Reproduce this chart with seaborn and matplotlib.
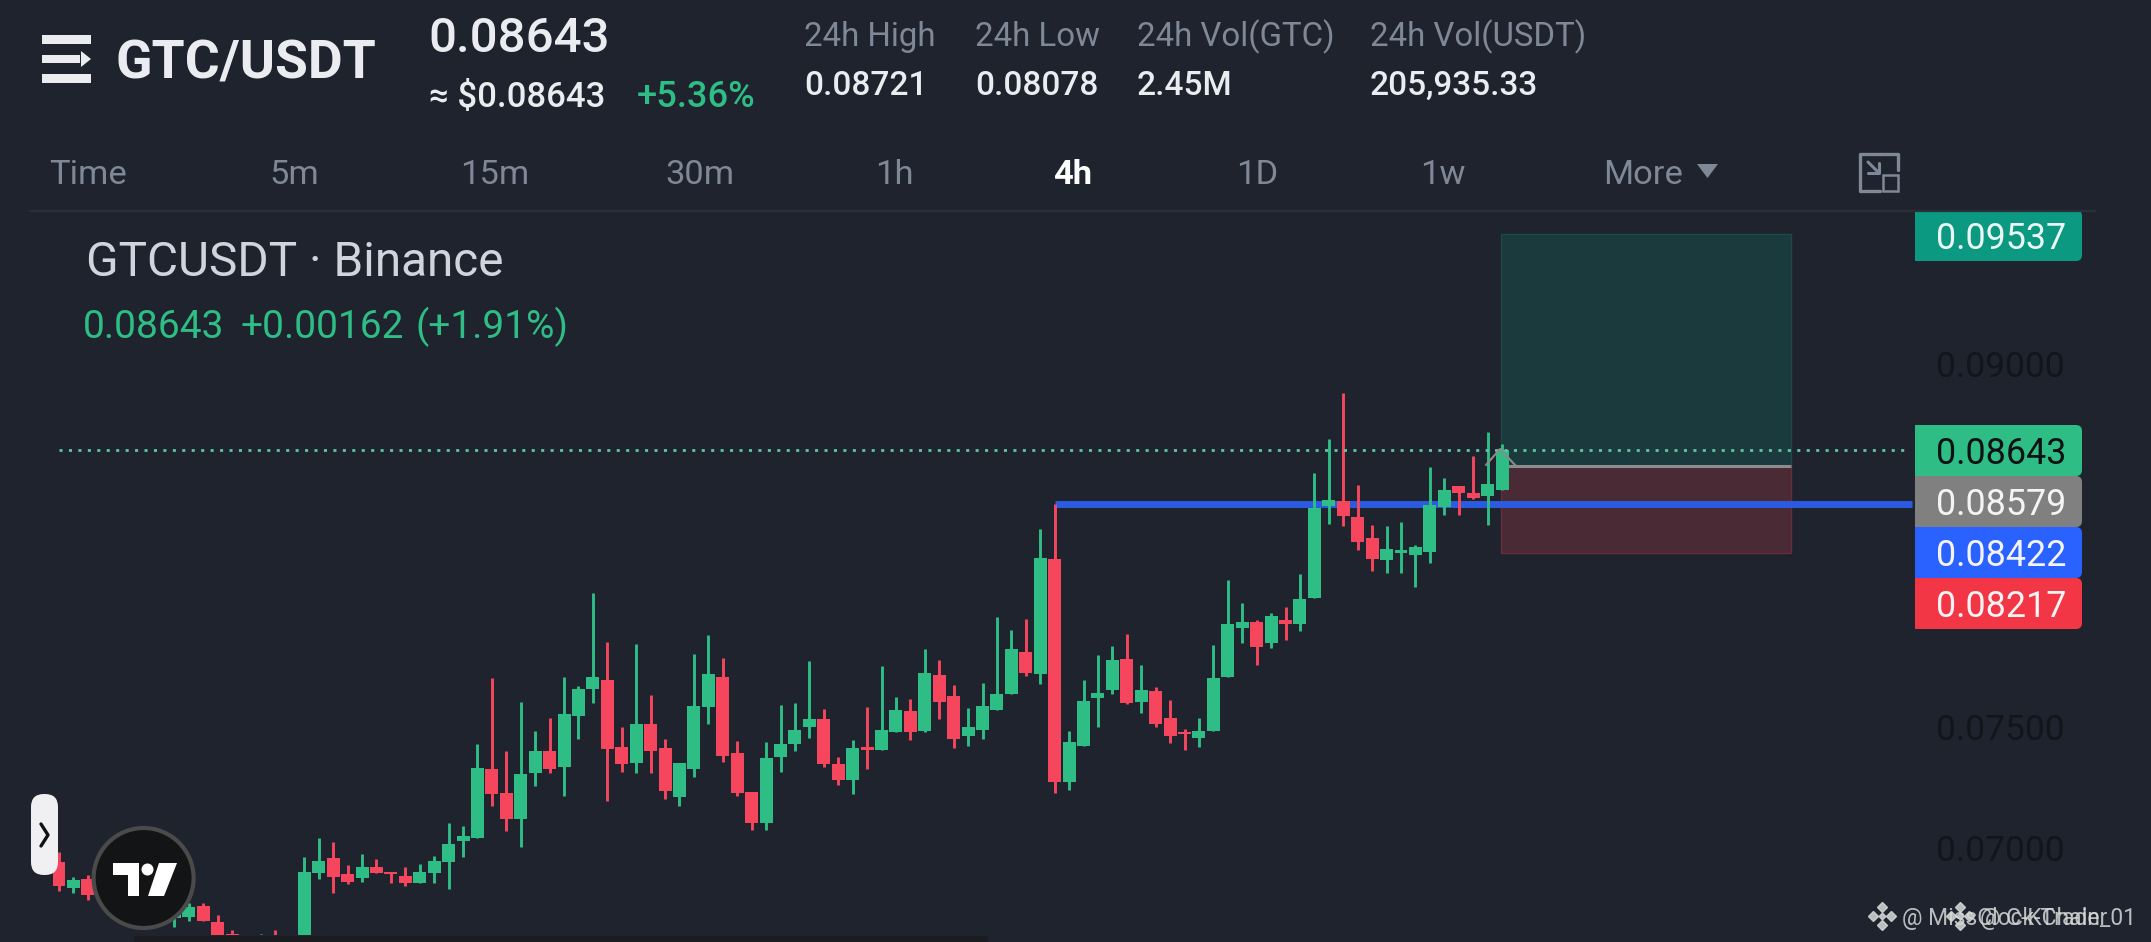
import numpy as np
import pandas as pd
import seaborn as sns
from matplotlib import pyplot as plt
from matplotlib.patches import FancyBboxPatch, Polygon, Rectangle, Circle

# candle slots, the ones behind the logo are left out
bar_index = [0, 1, 2, 8, 9, 10, 11, 12, 14, 15, 17, 18, 19, 20, 21, 22, 23, 24, 25, 26, 27, 28, 29, 30, 31, 32, 33, 34,
             35, 36, 37, 38, 39, 40, 41, 42, 43, 44, 45, 46, 47, 48, 49, 50, 51, 52, 53, 54, 55, 56, 57, 58, 59, 60,
             61, 62, 63, 64, 65, 66, 67, 68, 69, 70, 71, 72, 73, 74, 75, 76, 77, 78, 79, 80, 81, 82, 83, 84, 85, 86,
             87, 88, 89, 90, 91, 92, 93, 94, 95, 96, 97, 98, 99, 100]
open_px = [.06942, .06834, .06872, .06711, .06715, .06760, .06694, .06645, .06537, .06620, .06599, .06896, .06958, .06892,
           .06876, .06921, .06900, .06884, .06855, .06896, .06942, .07029, .07041, .07326, .07227, .07119, .07310, .07401,
           .07335, .07546, .07657, .07695, .07418, .07352, .07513, .07414, .07211, .07326, .07583, .07707, .07392, .07231,
           .07103, .07376, .07429, .07500, .07533, .07347, .07281, .07417, .07405, .07479, .07566, .07483,
           .07715, .07628, .07463, .07487, .07570, .07637, .07810, .07719, .08194, .07273, .07421, .07620, .07653, .07781,
           .07604, .07649, .07538, .07479, .07454, .07483, .07707, .07909, .07934, .07847, .07942, .07926,
           .08033, .08413, .08434, .08368, .08281, .08190, .08219, .08211, .08223, .08409, .08496, .08467, .08454, .08479]
high_px = [.06983, .06880, .06888, .06764, .06773, .06773, .06723, .06661, .06645, .06661, .06962, .07041, .07024, .06929,
           .06975, .06954, .06900, .06921, .06933, .06967, .07103, .07091, .07430, .07703, .07401, .07604, .07484, .07538,
           .07707, .07670, .08054, .07852, .07500, .07843, .07633, .07451, .07352, .07802, .07881, .07785, .07442, .07231,
           .07438, .07591, .07600, .07772, .07575, .07376, .07446, .07583, .07752, .07624, .07616, .07822,
           .07777, .07674, .07579, .07682, .07955, .07901, .07946, .08318, .08422, .07483, .07695, .07798, .07835, .07884,
           .07756, .07665, .07612, .07492, .07537, .07839, .08107, .08012, .07942, .07971, .07996, .08132,
           .08550, .08690, .08880, .08500, .08335, .08331, .08347, .08252, .08574, .08529, .08496, .08620, .08721, .08669]
low_px = [.06822, .06814, .06785, .06673, .06698, .06698, .06599, .06558, .06516, .06537, .06578, .06872, .06814, .06851,
          .06859, .06896, .06855, .06843, .06855, .06855, .06830, .06962, .07041, .07173, .07070, .07004, .07256, .07310,
          .07215, .07451, .07600, .07194, .07314, .07310, .07310, .07203, .07173, .07293, .07513, .07355, .07215, .07074,
          .07074, .07314, .07400, .07454, .07334, .07260, .07223, .07326, .07405, .07479, .07446, .07479,
          .07533, .07413, .07421, .07450, .07570, .07637, .07711, .07678, .07227, .07239, .07421, .07500, .07637, .07595,
          .07558, .07500, .07434, .07405, .07417, .07483, .07707, .07847, .07756, .07826, .07860, .07897,
          .08033, .08339, .08331, .08231, .08145, .08136, .08136, .08079, .08178, .08376, .08376, .08442, .08335, .08479]
close_px = [.06843, .06867, .06805, .06744, .06756, .06698, .06620, .06578, .06599, .06558, .06900, .06946, .06880, .06859,
            .06921, .06896, .06892, .06855, .06900, .06946, .07016, .07049, .07330, .07223, .07119, .07306, .07401, .07326,
            .07554, .07657, .07707, .07410, .07348, .07513, .07401, .07236, .07352, .07587, .07719, .07380, .07227, .07103,
            .07372, .07429, .07487, .07533, .07347, .07281, .07413, .07405, .07488, .07570, .07479, .07723,
            .07604, .07450, .07500, .07587, .07637, .07822, .07723, .08198, .07273, .07438, .07608, .07641, .07777, .07600,
            .07653, .07512, .07463, .07471, .07483, .07703, .07926, .07934, .07831, .07959, .07926, .08029,
            .08405, .08438, .08372, .08264, .08194, .08236, .08231, .08244, .08417, .08479, .08467, .08446, .08504, .08643]

last_price = 0.08643
entry_price = 0.08579
target_price = 0.09537
stop_price = 0.08217
level_price = 0.08422
level_start = 69
tool_start, tool_end = 99.9, 120

price_ticks = [0.07, 0.075, 0.09]
tag_labels = ["0.09537", "0.08643", "0.08579", "0.08422", "0.08217"]
tag_colors = ["#0B9981", "#2EBD85", "#808080", "#2962FF", "#F23645"]
tag_text_colors = ["#EAF6F4", "#0E1114", "#F4F4F4", "#F4F4F4", "#F4F4F4"]

tab_labels = ["Time", "5m", "15m", "30m", "1h", "4h", "1D", "1w", "More"]
stat_titles = ["24h High", "24h Low", "24h Vol(GTC)", "24h Vol(USDT)"]
stat_values = ["0.08721", "0.08078", "2.45M", "205,935.33"]

BG = "#1E232D"
GREEN = "#2EBD85"
RED = "#F6465D"
GREY = "#7F8896"
WHITE = "#EAECEF"

sns.set_theme(style="dark", rc={"axes.facecolor": BG, "figure.facecolor": BG, "axes.grid": False})
plt.rcParams["font.family"] = ["Roboto", "DejaVu Sans"]

df = pd.DataFrame({"idx": bar_index, "open": open_px, "high": high_px, "low": low_px, "close": close_px})
df["body"] = (df["close"] - df["open"]).abs()
df["bottom"] = df[["open", "close"]].min(axis=1)
df["up"] = df["close"] >= df["open"]

fig = plt.figure(figsize=(21.51, 9.42), dpi=100)
ax = fig.add_axes([0, 7 / 942, 1915 / 2151, 725 / 942])

# position tool behind the candles
ax.add_patch(Rectangle((tool_start, entry_price), tool_end - tool_start, target_price - entry_price,
                       facecolor="#1B3A3D", edgecolor="#20474A", linewidth=1, zorder=1))
ax.add_patch(Rectangle((tool_start, stop_price), tool_end - tool_start, entry_price - stop_price,
                       facecolor="#4A2A35", edgecolor="#672D3A", linewidth=1, zorder=1))
ax.hlines(level_price, level_start, 128.4, color="#2B5BE0", linewidth=5, zorder=2)
ax.hlines(entry_price, tool_start, tool_end, color="#8C8C8C", linewidth=2.2, zorder=2)

for is_up, color in [(True, GREEN), (False, RED)]:
    part = df[df["up"] == is_up]
    ax.vlines(part["idx"], part["low"], part["high"], color=color, linewidth=2.1, zorder=3)
    sns.barplot(data=part, x="idx", y="body", bottom=part["bottom"].to_numpy(), native_scale=True, orient="x",
                color=color, saturation=1, width=0.9, errorbar=None, linewidth=0, zorder=4, ax=ax)

ax.hlines(last_price, 0, 127.9, color="#62C3A3", linewidth=2, linestyles=(0, (1.1, 2.3)), zorder=5)

ax.set_xlim(-4.089, 128.62)
ax.set_ylim(0.066405, 0.096364)
ax.set(xlabel="", ylabel="")
ax.yaxis.tick_right()
ax.set_yticks(price_ticks, [f"{p:.5f}" for p in price_ticks])
ax.tick_params(axis="y", length=0, pad=15, labelsize=25.5, labelcolor="#12151A")
ax.tick_params(axis="x", bottom=False, labelbottom=False)
sns.despine(ax=ax, left=True, bottom=True, right=True, top=True)

# app chrome on top, in pixels
ui = fig.add_axes([0, 0, 1, 1], zorder=10)
ui.set_xlim(0, 2151)
ui.set_ylim(942, 0)
ui.axis("off")
ui.patch.set_alpha(0)

ui.plot([1486, 1500, 1516], [465, 449, 466], color="#8C8C8C", linewidth=1.5, zorder=1)
ui.plot([30, 2095], [211, 211], color="#2A303A", linewidth=1.6)
ui.add_patch(Rectangle((134, 936), 854, 6, facecolor="#1A1C1F", linewidth=0))

# price tags
tag_tops = [210, 425, 476, 527, 578]
for top, label, color, text_color in zip(tag_tops, tag_labels, tag_colors, tag_text_colors):
    ui.add_patch(FancyBboxPatch((1920, top + 5), 157, 41, boxstyle="round,pad=5,rounding_size=6", facecolor=color,
                                linewidth=0))
    ui.add_patch(Rectangle((1915, top), 12, 51, facecolor=color, linewidth=0))
    ui.text(2001, top + 39, label, color=text_color, fontsize=25.8, ha="center", va="baseline")

# menu icon
for y0, h, w in [(35, 9, 49), (55, 8, 38), (74, 9, 49)]:
    ui.add_patch(Rectangle((42, y0), w, h, facecolor=WHITE, linewidth=0))
ui.add_patch(Polygon([(81, 51), (91, 59), (81, 67)], facecolor=WHITE, linewidth=0))

ui.text(115, 78, "GTC/USDT", color=WHITE, fontsize=38.5, fontweight="bold", va="baseline")
ui.text(428, 52, "0.08643", color=WHITE, fontsize=35.5, fontweight="medium", va="baseline")
ui.text(429, 107, "≈ $0.08643", color=WHITE, fontsize=25, fontweight="medium", va="baseline")
ui.text(637, 107, "+5.36%", color=GREEN, fontsize=26, fontweight="medium", va="baseline")

for x, title, value in zip([804, 975, 1137, 1370], stat_titles, stat_values):
    ui.text(x, 46, title, color=GREY, fontsize=23.8, va="baseline")
    ui.text(x, 95, value, color=WHITE, fontsize=24, fontweight="medium", va="baseline")

for x, label in zip([49, 269, 460, 665, 875, 1053, 1236, 1420, 1603], tab_labels):
    active = label == "4h"
    ui.text(x, 184, label, color="#FFFFFF" if active else GREY, fontsize=24.8,
            fontweight="bold" if active else "normal", va="baseline")
ui.add_patch(Polygon([(1697, 164), (1718, 164), (1707.5, 178)], facecolor=GREY, linewidth=0))
ui.plot([1880, 1860, 1860, 1880], [154, 154, 191, 191], color=GREY, linewidth=2.4)
ui.plot([1880, 1898, 1898], [154, 154, 170], color=GREY, linewidth=2.4)
ui.plot([1868, 1879], [162, 173], color=GREY, linewidth=2.2)
ui.plot([1868, 1879, 1879], [173, 173, 163], color=GREY, linewidth=2.2)
ui.add_patch(Rectangle((1883, 175), 15, 16, facecolor="none", edgecolor=GREY, linewidth=1.8))

ui.text(86, 276, "GTCUSDT · Binance", color="#D1D4DC", fontsize=34.4, va="baseline")
for x, label in zip([83, 241, 416], ["0.08643", "+0.00162", "(+1.91%)"]):
    ui.text(x, 338, label, color=GREEN, fontsize=28, va="baseline")

# side handle and logo
ui.add_patch(FancyBboxPatch((38, 801), 13, 67, boxstyle="round,pad=7,rounding_size=13", facecolor="#F0F0F2", linewidth=0))
ui.plot([41, 48, 41], [824, 835, 846], color="#111111", linewidth=2.4)
ui.add_patch(Circle((143.6, 878), 50, facecolor="#131415", edgecolor="#4A4A4A", linewidth=3))
ui.add_patch(Polygon([(112.5, 863), (139, 863), (139, 896), (127.5, 896), (127.5, 875), (112.5, 875)], facecolor="white", linewidth=0))
ui.add_patch(Circle((147.5, 869.5), 6, facecolor="white", linewidth=0))
ui.add_patch(Polygon([(159, 863), (177, 863), (164, 896), (148, 896)], facecolor="white", linewidth=0))

# overlapping watermarks
for cx, tx, label in [(1882, 1902, "@ MissClock-Trader"), (1960, 1980, "@ C-KChain_01")]:
    ui.plot([cx, cx, cx - 9, cx + 9], [907, 925, 916, 916], linestyle="none", marker="D", markersize=5, color="#D8D8D8", alpha=0.85)
    ui.plot([cx], [916], marker="D", markersize=3.5, color="#D8D8D8", alpha=0.85)
    ui.text(tx, 925, label, color="#D8D8D8", alpha=0.85, fontsize=16.5, va="baseline")

plt.savefig("out.png", dpi=100)
